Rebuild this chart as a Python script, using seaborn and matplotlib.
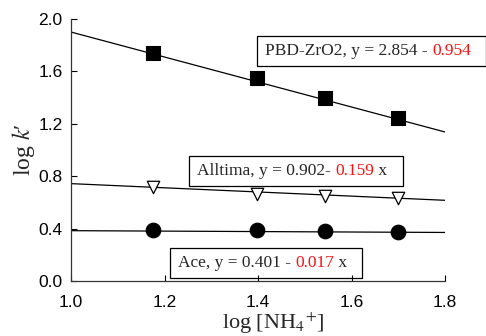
import numpy as np
import pandas as pd
import matplotlib.pyplot as plt
import seaborn as sns
from matplotlib.patches import Rectangle

# data
log_nh4 = [1.176, 1.398, 1.544, 1.699]
pbd_zro2 = [1.738, 1.552, 1.399, 1.242]
alltima = [0.715, 0.664, 0.649, 0.631]
ace = [0.387, 0.388, 0.381, 0.376]

columns = ['PBD-ZrO2', 'Alltima', 'Ace']
intercepts = [2.854, 0.902, 0.401]
slopes = [0.954, 0.159, 0.017]
fit_left = ['PBD-ZrO2, y = 2.854 - ', 'Alltima, y = 0.902- ', 'Ace, y = 0.401 - ']
fit_red = ['0.954', '0.159', '0.017']
fit_right = ['', ' x', ' x']

sns.set_style('ticks')
plt.rcParams['font.family'] = ['Liberation Sans', 'DejaVu Sans']
plt.rcParams['mathtext.fontset'] = 'stix'

df = pd.DataFrame({'x': log_nh4, 'PBD-ZrO2': pbd_zro2, 'Alltima': alltima, 'Ace': ace})

fig = plt.figure(figsize=(4.86, 3.36), dpi=100)
ax = fig.add_axes([0.146, 0.1637, 0.77, 0.78])

# fitted lines
xfit = np.array([1.0, 1.8])
for name, b, m in zip(columns, intercepts, slopes):
    sns.lineplot(x=xfit, y=b - m * xfit, color='black', lw=0.9, ax=ax)

sns.scatterplot(data=df, x='x', y='PBD-ZrO2', marker='s', s=95, color='black',
                edgecolor='black', ax=ax, zorder=3)
sns.scatterplot(data=df, x='x', y='Alltima', marker='v', s=80, color='white',
                edgecolor='black', linewidth=0.9, ax=ax, zorder=3)
sns.scatterplot(data=df, x='x', y='Ace', marker='o', s=110, color='black',
                edgecolor='black', ax=ax, zorder=3)

ax.set_xlim(1.0, 1.8)
ax.set_ylim(0.0, 2.0)
ax.set_xticks([1.0, 1.2, 1.4, 1.6, 1.8])
ax.set_yticks([0.0, 0.4, 0.8, 1.2, 1.6, 2.0])
ax.xaxis.set_major_formatter(plt.FormatStrFormatter('%.1f'))
ax.yaxis.set_major_formatter(plt.FormatStrFormatter('%.1f'))
ax.tick_params(direction='in', length=4, width=0.8, labelsize=12.5, colors='black')
ax.tick_params(axis='x', pad=10)
ax.tick_params(axis='y', pad=6)
for s in ['left', 'bottom']:
    ax.spines[s].set_color('#333333')
    ax.spines[s].set_linewidth(0.9)
sns.despine(ax=ax)

ax.set_xlabel('log [NH$_4$$^{+}$]', family='Liberation Serif', fontsize=16)
ax.xaxis.set_label_coords(0.54, -0.112)
ax.set_ylabel("log $k$\u2032", family='Liberation Serif', fontsize=17)
ax.yaxis.set_label_coords(-0.092, 0.5)

# equation boxes
positions = [(1.415, 1.752), (1.27, 0.836), (1.229, 0.137)]
fig.canvas.draw()
renderer = fig.canvas.get_renderer()
for (tx, ty), left, red, right in zip(positions, fit_left, fit_red, fit_right):
    t1 = ax.text(tx, ty, left, family='Liberation Serif', fontsize=12.5,
                 va='center', ha='left', clip_on=False)
    t2 = ax.annotate(red, xy=(1, 0), xycoords=t1, va='bottom', ha='left',
                     family='Liberation Serif', fontsize=12.5, color='#ff1010')
    parts = [t1, t2]
    if right:
        t3 = ax.annotate(right, xy=(1, 0), xycoords=t2, va='bottom', ha='left',
                         family='Liberation Serif', fontsize=12.5)
        parts.append(t3)
    fig.canvas.draw()
    x0 = min(p.get_window_extent(renderer).x0 for p in parts) - 8
    x1 = max(p.get_window_extent(renderer).x1 for p in parts) + 15
    y0 = min(p.get_window_extent(renderer).y0 for p in parts) - 7
    y1 = max(p.get_window_extent(renderer).y1 for p in parts) + 7
    (fx0, fy0) = fig.transFigure.inverted().transform((x0, y0))
    (fx1, fy1) = fig.transFigure.inverted().transform((x1, y1))
    fig.patches.append(Rectangle((fx0, fy0), fx1 - fx0, fy1 - fy0, transform=fig.transFigure,
                                 fill=False, edgecolor='black', lw=0.9, figure=fig))

fig.savefig('out.png', dpi=100)
